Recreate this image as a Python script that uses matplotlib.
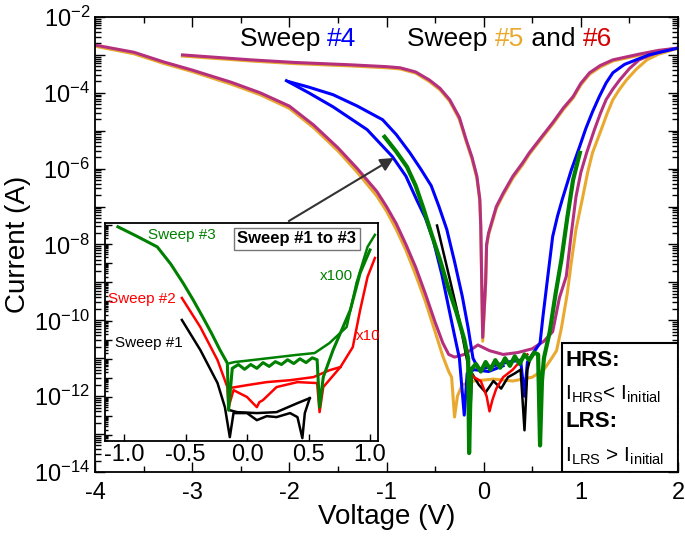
import numpy as np
import matplotlib
matplotlib.use("Agg")
import matplotlib.pyplot as plt
import matplotlib.ticker as ticker
from matplotlib.patches import Rectangle
from matplotlib.offsetbox import TextArea, HPacker, AnchoredOffsetbox

plt.rcParams['font.family'] = ['Liberation Sans', 'DejaVu Sans']
plt.rcParams['axes.unicode_minus'] = False

# main plot data: voltage (V) and log10 of current (A)
# sweep 5 (orange)
s5_lrs_v = [-4.0, -3.6, -3.3, -3.0, -2.6, -2.3, -2.0, -1.75, -1.5, -1.3, -1.1, -1.0, -0.9, -0.8, -0.7, -0.6,
            -0.5, -0.42, -0.36, -0.33, -0.3, -0.27, -0.22, -0.1, 0.1, 0.3, 0.5, 0.62, 0.7, 0.75, 0.8, 0.86, 0.9,
            0.95, 1.02, 1.07, 1.12, 1.21, 1.27, 1.33, 1.4, 1.47, 1.57, 1.68, 1.8, 1.88, 2.0]
s5_lrs_log = [-2.77, -2.97, -3.22, -3.44, -3.77, -4.05, -4.41, -4.92, -5.53, -6.1, -6.72, -7.12, -7.6, -8.15,
              -8.8, -9.5, -10.3, -10.95, -11.35, -11.5, -12.55, -12.0, -11.7, -11.6, -11.55, -11.6, -11.5, -11.3,
              -11.0, -10.8, -10.2, -9.3, -8.5, -7.6, -6.74, -6.1, -5.58, -4.97, -4.55, -4.18, -3.9, -3.66, -3.38,
              -3.13, -2.98, -2.92, -2.82]
s5_hrs_v = [-3.1, -2.4, -1.94, -1.38, -1.0, -0.86, -0.7, -0.56, -0.45, -0.35, -0.25, -0.18, -0.12, -0.07, -0.04,
            -0.03, -0.02, -0.01, 0.02, 0.03, 0.05, 0.13, 0.2, 0.3, 0.4, 0.47, 0.6, 0.71, 0.82, 0.92, 1.0, 1.09,
            1.2, 1.33, 1.6, 1.8, 2.0]
s5_hrs_log = [-3.03, -3.16, -3.23, -3.29, -3.34, -3.37, -3.48, -3.7, -3.92, -4.22, -4.7, -5.28, -5.75, -6.25,
              -6.85, -7.55, -9.05, -10.55, -9.05, -8.05, -7.75, -7.05, -6.7, -6.25, -5.9, -5.62, -5.19, -4.83,
              -4.44, -4.14, -3.79, -3.51, -3.32, -3.16, -3.01, -2.9, -2.83]
# sweep 6 (magenta)
s6_lrs_v = [-4.0, -3.6, -3.3, -3.0, -2.6, -2.3, -2.0, -1.75, -1.5, -1.3, -1.1, -1.0, -0.9, -0.8, -0.7, -0.6,
            -0.5, -0.42, -0.36, -0.3, -0.2, -0.06, 0.06, 0.2, 0.35, 0.5, 0.62, 0.71, 0.78, 0.85, 0.9, 0.95, 1.0,
            1.06, 1.14, 1.2, 1.26, 1.33, 1.4, 1.5, 1.6, 1.75, 1.88, 2.0]
s6_lrs_log = [-2.74, -2.93, -3.18, -3.4, -3.72, -4.0, -4.35, -4.85, -5.45, -6.0, -6.6, -7.0, -7.45, -8.0, -8.6,
              -9.3, -10.05, -10.6, -10.9, -10.97, -10.9, -10.65, -10.8, -10.9, -10.85, -10.75, -10.55, -10.3,
              -9.4, -8.84, -7.75, -6.74, -6.1, -5.58, -4.97, -4.55, -4.18, -3.9, -3.66, -3.36, -3.13, -2.97,
              -2.87, -2.82]
s6_hrs_v = [-3.1, -2.4, -1.94, -1.38, -1.0, -0.86, -0.7, -0.56, -0.45, -0.35, -0.25, -0.18, -0.12, -0.07, -0.04,
            -0.03, -0.02, -0.01, 0.02, 0.03, 0.05, 0.13, 0.2, 0.3, 0.4, 0.47, 0.6, 0.71, 0.82, 0.92, 1.0, 1.09,
            1.2, 1.33, 1.6, 1.8, 2.0]
s6_hrs_log = [-3.0, -3.13, -3.2, -3.26, -3.31, -3.34, -3.45, -3.66, -3.88, -4.18, -4.65, -5.24, -5.7, -6.2,
              -6.8, -7.5, -9.0, -10.45, -9.0, -8.0, -7.7, -7.0, -6.65, -6.2, -5.85, -5.58, -5.15, -4.79, -4.4,
              -4.1, -3.75, -3.47, -3.28, -3.13, -2.98, -2.88, -2.82]
# sweep 4 (blue)
s4_a_v = [-2.0, -1.8, -1.55, -1.3, -1.04, -0.9, -0.76, -0.65, -0.54, -0.46, -0.38, -0.3, -0.22, -0.16, -0.11,
          -0.05, 0.1, 0.25, 0.38, 0.42, 0.45, 0.5, 0.58, 0.61, 0.66, 0.71, 0.76, 0.81, 0.9, 0.99, 1.05, 1.12,
          1.19, 1.26, 1.33, 1.45, 1.7, 2.0]
s4_a_log = [-3.71, -3.85, -4.05, -4.35, -4.71, -5.1, -5.58, -6.0, -6.45, -7.0, -7.6, -8.45, -9.37, -10.2, -11.0,
            -11.3, -11.2, -11.1, -11.05, -12.0, -11.1, -10.9, -10.6, -9.9, -8.84, -7.79, -7.25, -6.8, -6.05,
            -5.4, -4.95, -4.5, -4.1, -3.74, -3.47, -3.25, -3.0, -2.82]
s4_b_v = [-2.03, -1.8, -1.55, -1.2, -0.94, -0.8, -0.69, -0.6, -0.52, -0.43, -0.35, -0.3, -0.25, -0.2, -0.17,
          -0.1, 0.05, 0.2]
s4_b_log = [-3.68, -4.0, -4.37, -4.97, -5.68, -6.2, -6.82, -7.3, -7.87, -8.8, -9.79, -10.4, -11.0, -12.5,
            -11.4, -11.3, -11.35, -11.2]
# sweeps 1-3 on the main plot
s3_v = [-1.02, -0.9, -0.79, -0.7, -0.62, -0.54, -0.45, -0.37, -0.28, -0.2, -0.16, -0.15, -0.13, -0.08, -0.03,
        0.02, 0.07, 0.12, 0.17, 0.22, 0.27, 0.32, 0.37, 0.42, 0.47, 0.52, 0.56, 0.58, 0.6, 0.62, 0.68, 0.74,
        0.8, 0.86, 0.92, 0.99]
s3_log = [-5.16, -5.55, -5.95, -6.45, -7.05, -7.7, -8.4, -9.1, -9.79, -10.5, -11.0, -13.5, -11.3, -11.15, -11.35,
          -11.1, -11.3, -11.05, -11.25, -11.0, -11.2, -10.95, -11.15, -10.9, -11.05, -10.85, -10.9, -13.3, -11.6,
          -11.0, -10.3, -9.3, -8.4, -7.3, -6.3, -5.58]
s1_v = [-0.48, -0.35, -0.25, -0.16, -0.14, -0.12, -0.05, 0.02, 0.1, 0.18, 0.25, 0.32, 0.38, 0.42, 0.45, 0.47]
s1_log = [-7.5, -8.9, -10.0, -11.2, -12.6, -11.4, -11.7, -11.9, -11.6, -11.8, -11.5, -11.4, -11.3, -12.9, -11.3, -11.1]
s2_v = [-0.16, -0.1, -0.03, 0.03, 0.06, 0.09, 0.13, 0.2, 0.3, 0.4, 0.45]
s2_log = [-11.3, -11.5, -11.6, -12.0, -12.4, -12.1, -11.8, -11.5, -11.3, -11.0, -10.9]

# inset data (sweep 3 x100, sweep 2 x10)
in3_a_v = [-1.05, -0.9, -0.73, -0.62, -0.52, -0.44, -0.36, -0.29, -0.22, -0.16, -0.15, -0.12, -0.07, -0.02,
           0.03, 0.08, 0.13, 0.18, 0.23, 0.28, 0.33, 0.38, 0.43, 0.48, 0.53, 0.57, 0.59, 0.62, 0.7, 0.84, 0.92, 1.0]
in3_a_log = [-3.1, -3.58, -4.15, -5.05, -6.04, -6.9, -7.82, -8.65, -9.54, -10.23, -12.69, -10.5, -10.3, -10.55,
             -10.3, -10.5, -10.2, -10.4, -10.15, -10.3, -10.05, -10.25, -10.0, -10.2, -9.95, -10.05, -12.53,
             -10.96, -9.54, -7.45, -5.51, -4.31]
in3_b_v = [1.04, 0.98, 0.89, 0.81, 0.67, 0.55, 0.4, 0.2, 0.0, -0.1, -0.14]
in3_b_log = [-3.52, -4.15, -6.04, -8.34, -9.18, -9.7, -9.8, -9.95, -10.1, -10.17, -10.23]
in2_a_v = [-0.53, -0.38, -0.24, -0.16, -0.15, -0.11, 0.0, 0.04, 0.08, 0.1, 0.13, 0.24, 0.41, 0.57, 0.59, 0.62,
           0.76, 0.86, 0.92, 0.98, 1.04]
in2_a_log = [-6.82, -8.34, -10.07, -11.48, -12.53, -11.64, -12.0, -12.27, -12.53, -12.27, -12.16, -11.48, -11.22,
             -11.27, -12.79, -11.48, -10.43, -9.39, -7.45, -5.72, -4.73]
in2_b_v = [-0.14, 0.0, 0.16, 0.35, 0.54, 0.67, 0.76]
in2_b_log = [-11.53, -11.38, -11.22, -11.12, -10.96, -10.6, -10.43]
in1_a_v = [-0.53, -0.38, -0.24, -0.18, -0.14, -0.11, 0.0, 0.08, 0.16, 0.24, 0.35, 0.41, 0.45, 0.47, 0.51]
in1_a_log = [-7.97, -9.54, -11.27, -12.53, -14.1, -12.84, -12.84, -13.21, -13.0, -13.05, -12.84, -13.05, -14.15,
             -12.84, -12.06]
in1_b_v = [0.51, 0.41, 0.24, 0.08, -0.08, -0.14]
in1_b_log = [-12.06, -12.32, -12.79, -12.84, -12.79, -12.69]

c_orange = '#E9A92F'
c_mag = '#B4307E'
c_blue = '#0000FF'
c_green = '#008000'
c_red = '#FF0000'


def curr(logs):
    return 10.0 ** np.array(logs)


fig = plt.figure(figsize=(6.85, 5.39), dpi=100)
ax = fig.add_axes([0.1387, 0.1243, 0.8511, 0.8442])

ax.plot(s5_lrs_v, curr(s5_lrs_log), color=c_orange, lw=2.2)
ax.plot(s5_hrs_v, curr(s5_hrs_log), color=c_orange, lw=2.2)
ax.plot(s6_lrs_v, curr(s6_lrs_log), color=c_mag, lw=2.2)
ax.plot(s6_hrs_v, curr(s6_hrs_log), color=c_mag, lw=2.2)
ax.plot(s4_a_v, curr(s4_a_log), color=c_blue, lw=2.2)
ax.plot(s4_b_v, curr(s4_b_log), color=c_blue, lw=2.2)
ax.plot(s1_v, curr(s1_log), color='black', lw=1.8)
ax.plot(s2_v, curr(s2_log), color=c_red, lw=1.8)
ax.plot(s3_v, curr(s3_log), color=c_green, lw=3)

ax.set_yscale('log')
ax.set_xlim(-4, 2)
ax.set_ylim(1e-14, 1e-2)
ax.xaxis.set_major_locator(ticker.MultipleLocator(1))
ax.xaxis.set_minor_locator(ticker.MultipleLocator(0.5))
ax.yaxis.set_major_locator(ticker.FixedLocator([10.0 ** k for k in range(-14, -1)]))
ax.yaxis.set_minor_locator(ticker.LogLocator(base=10, subs=np.arange(2, 10), numticks=100))
ax.yaxis.set_minor_formatter(ticker.NullFormatter())


def ylab(v, pos):
    k = int(round(np.log10(v)))
    return r'$\mathregular{10^{%d}}$' % k if k % 2 == 0 else ''


ax.yaxis.set_major_formatter(ticker.FuncFormatter(ylab))
ax.tick_params(which='both', direction='in', top=True, right=True, labelsize=17, width=1)
ax.tick_params(which='major', length=7)
ax.tick_params(which='minor', length=4)
ax.tick_params(axis='x', pad=7)
for s in ax.spines.values():
    s.set_linewidth(1.3)
ax.set_xlabel('Voltage (V)', fontsize=20, labelpad=0)
ax.set_ylabel('Current (A)', fontsize=20, labelpad=2)


# coloured titles
def colored(parts, x, y):
    boxes = [TextArea(t, textprops=dict(color=c, fontsize=19)) for t, c in parts]
    pack = HPacker(children=boxes, align='baseline', pad=0, sep=0)
    ab = AnchoredOffsetbox(loc='center left', child=pack, pad=0, borderpad=0, frameon=False,
                           bbox_to_anchor=(x, y), bbox_transform=ax.transAxes)
    ax.add_artist(ab)


colored([('Sweep ', 'black'), ('#4', c_blue)], 0.248, 0.952)
colored([('Sweep ', 'black'), ('#5', c_orange), (' and ', 'black'), ('#6', '#D40000')], 0.535, 0.952)

# arrow from inset to main curves
ax.annotate('', xy=(-0.9, 10 ** -5.68), xytext=(-2.03, 10 ** -7.42),
            arrowprops=dict(arrowstyle='-|>', color='#333333', lw=1.5, mutation_scale=20))

# HRS / LRS box
ax.add_patch(Rectangle((0.801, 0.0), 0.199, 0.2835, transform=ax.transAxes, facecolor='white',
                       edgecolor='black', lw=1.5, zorder=5))
tx = 0.807
ax.text(tx, 0.245, 'HRS:', transform=ax.transAxes, fontsize=16, fontweight='bold', va='center', zorder=6)
ax.text(tx, 0.172, r'I$_\mathregular{HRS}$< I$_\mathregular{initial}$', transform=ax.transAxes, fontsize=15,
        va='center', zorder=6)
ax.text(tx, 0.11, 'LRS:', transform=ax.transAxes, fontsize=16, fontweight='bold', va='center', zorder=6)
ax.text(tx, 0.035, r'I$_\mathregular{LRS}$ > I$_\mathregular{initial}$', transform=ax.transAxes, fontsize=15,
        va='center', zorder=6)

# inset
ins = fig.add_axes([0.1533, 0.1818, 0.3985, 0.4045])
ins.plot(in1_a_v, curr(in1_a_log), color='black', lw=1.8)
ins.plot(in1_b_v, curr(in1_b_log), color='black', lw=1.8)
ins.plot(in2_a_v, curr(in2_a_log), color=c_red, lw=1.8)
ins.plot(in2_b_v, curr(in2_b_log), color=c_red, lw=1.8)
ins.plot(in3_a_v, curr(in3_a_log), color=c_green, lw=2.2)
ins.plot(in3_b_v, curr(in3_b_log), color=c_green, lw=1.8)
ins.set_yscale('log')
ins.set_xlim(-1.155, 1.065)
ins.set_ylim(10 ** -14.3, 10 ** -2.9)
ins.xaxis.set_major_locator(ticker.MultipleLocator(0.5))
ins.xaxis.set_major_formatter(ticker.FormatStrFormatter('%.1f'))
ins.yaxis.set_major_locator(ticker.LogLocator(base=10, numticks=20))
ins.yaxis.set_minor_locator(ticker.LogLocator(base=10, subs=np.arange(2, 10), numticks=100))
ins.yaxis.set_major_formatter(ticker.NullFormatter())
ins.yaxis.set_minor_formatter(ticker.NullFormatter())
ins.tick_params(which='both', direction='in', labelsize=17, width=1)
ins.tick_params(which='major', length=5, pad=2)
ins.tick_params(which='minor', length=2.5)
for s in ins.spines.values():
    s.set_linewidth(1.3)

ins.text(0.157, 0.945, 'Sweep #3', transform=ins.transAxes, color=c_green, fontsize=11, va='center')
ins.text(0.011, 0.651, 'Sweep #2', transform=ins.transAxes, color=c_red, fontsize=11, va='center')
ins.text(0.035, 0.45, 'Sweep #1', transform=ins.transAxes, color='black', fontsize=11, va='center')
ins.text(0.788, 0.757, 'x100', transform=ins.transAxes, color=c_green, fontsize=11, va='center')
ins.text(0.919, 0.482, 'x10', transform=ins.transAxes, color=c_red, fontsize=11, va='center')
ins.text(0.703, 0.927, 'Sweep #1 to #3', transform=ins.transAxes, fontsize=12, fontweight='bold',
         ha='center', va='center',
         bbox=dict(boxstyle='square,pad=0.2', facecolor='white', edgecolor='#777777', lw=1))

fig.savefig('out.png', dpi=100)
